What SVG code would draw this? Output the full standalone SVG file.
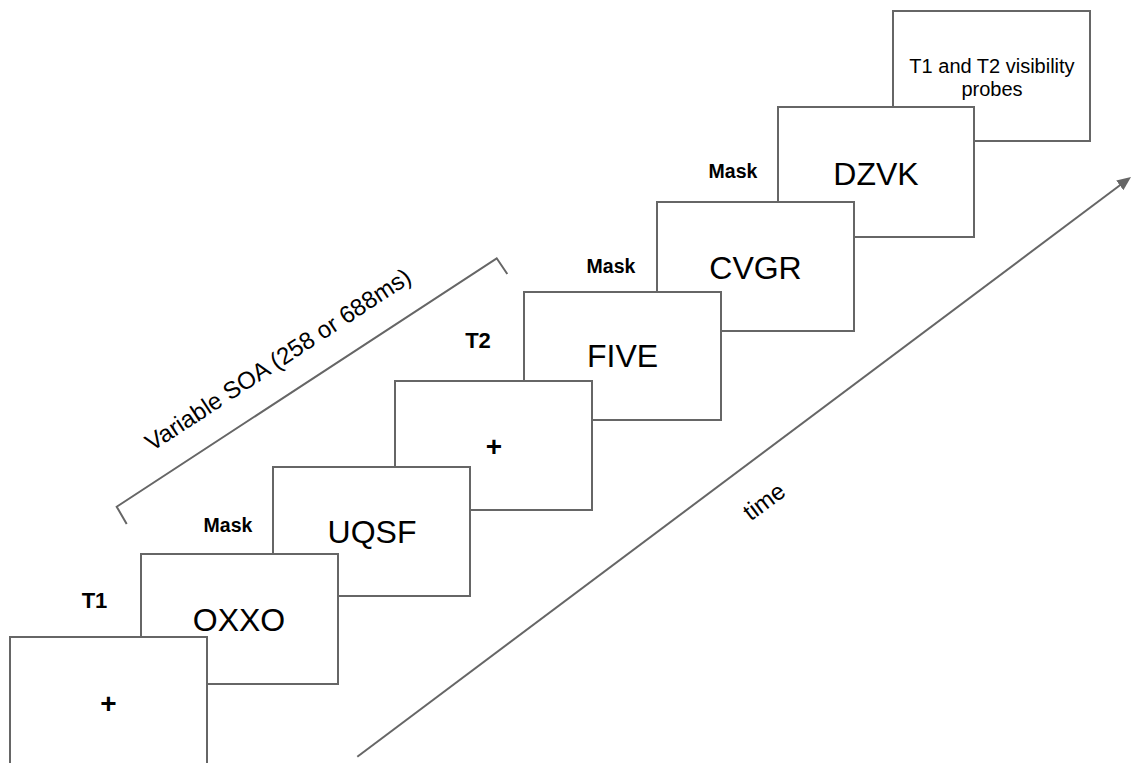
<svg xmlns="http://www.w3.org/2000/svg" width="1131" height="763" viewBox="0 0 1131 763">
  <style>
    .box { fill: #ffffff; stroke: #666666; stroke-width: 2; }
    .big { font-family: "Liberation Sans", Arial, sans-serif; font-size: 32px; fill: #000000; text-anchor: middle; }
    .plus { font-family: "Liberation Sans", Arial, sans-serif; font-size: 28px; font-weight: bold; fill: #000000; text-anchor: middle; }
    .lbl { font-family: "Liberation Sans", Arial, sans-serif; font-weight: bold; fill: #000000; text-anchor: middle; }
    .small { font-family: "Liberation Sans", Arial, sans-serif; font-size: 20px; fill: #000000; text-anchor: middle; }
    .rot { font-family: "Liberation Sans", Arial, sans-serif; font-size: 24px; fill: #000000; text-anchor: middle; }
    .conn { fill: none; stroke: #666666; stroke-width: 2; }
  </style>
  <defs>
    <marker id="arrow" markerUnits="userSpaceOnUse" markerWidth="14" markerHeight="12" viewBox="0 0 14 12" refX="6" refY="6" orient="auto">
      <path d="M0,0 L14,6 L0,12 z" fill="#666666"/>
    </marker>
  </defs>
  <rect width="1131" height="763" fill="#ffffff"/>

  <!-- boxes drawn back to front -->
  <g id="probes">
    <rect class="box" x="893" y="11" width="197" height="130"/>
    <text class="small" x="992" y="73">T1 and T2 visibility</text>
    <text class="small" x="992" y="96">probes</text>
  </g>
  <g id="mask3">
    <rect class="box" x="778" y="107" width="196" height="130"/>
    <text class="big" x="876" y="184.5">DZVK</text>
  </g>
  <g id="mask2">
    <rect class="box" x="657" y="202" width="197" height="129"/>
    <text class="big" x="755.5" y="278.5">CVGR</text>
  </g>
  <g id="t2">
    <rect class="box" x="524" y="292" width="197" height="128"/>
    <text class="big" x="622.5" y="367">FIVE</text>
  </g>
  <g id="fixation2">
    <rect class="box" x="395" y="381" width="197" height="129"/>
    <text class="plus" x="494" y="456">+</text>
  </g>
  <g id="mask1">
    <rect class="box" x="273" y="467" width="197" height="129"/>
    <text class="big" x="372" y="543">UQSF</text>
  </g>
  <g id="t1">
    <rect class="box" x="141" y="554" width="197" height="130"/>
    <text class="big" x="239" y="631">OXXO</text>
  </g>
  <g id="fixation1">
    <rect class="box" x="10" y="637" width="197" height="130"/>
    <text class="plus" x="108.5" y="712.5">+</text>
  </g>

  <g id="labels">
    <text class="lbl" x="94.5" y="608" font-size="22">T1</text>
    <text class="lbl" x="478" y="348" font-size="22">T2</text>
    <text class="lbl" x="228" y="531.5" font-size="19.5">Mask</text>
    <text class="lbl" x="611" y="273.3" font-size="19.5">Mask</text>
    <text class="lbl" x="733" y="178.3" font-size="19.5">Mask</text>
  </g>

  <g id="connectors">
    <path class="conn" d="M126.7,524 L116.7,506.7 L496.7,258.3 L507.3,274"/>
    <text class="rot" transform="translate(282.5,366.5) rotate(-33.2)" x="0" y="0">Variable SOA (258 or 688ms)</text>
    <line class="conn" x1="357.3" y1="756.7" x2="1124.6" y2="181.8" marker-end="url(#arrow)"/>
    <text class="rot" transform="translate(769,508) rotate(-36.8)" x="0" y="0">time</text>
  </g>
</svg>
